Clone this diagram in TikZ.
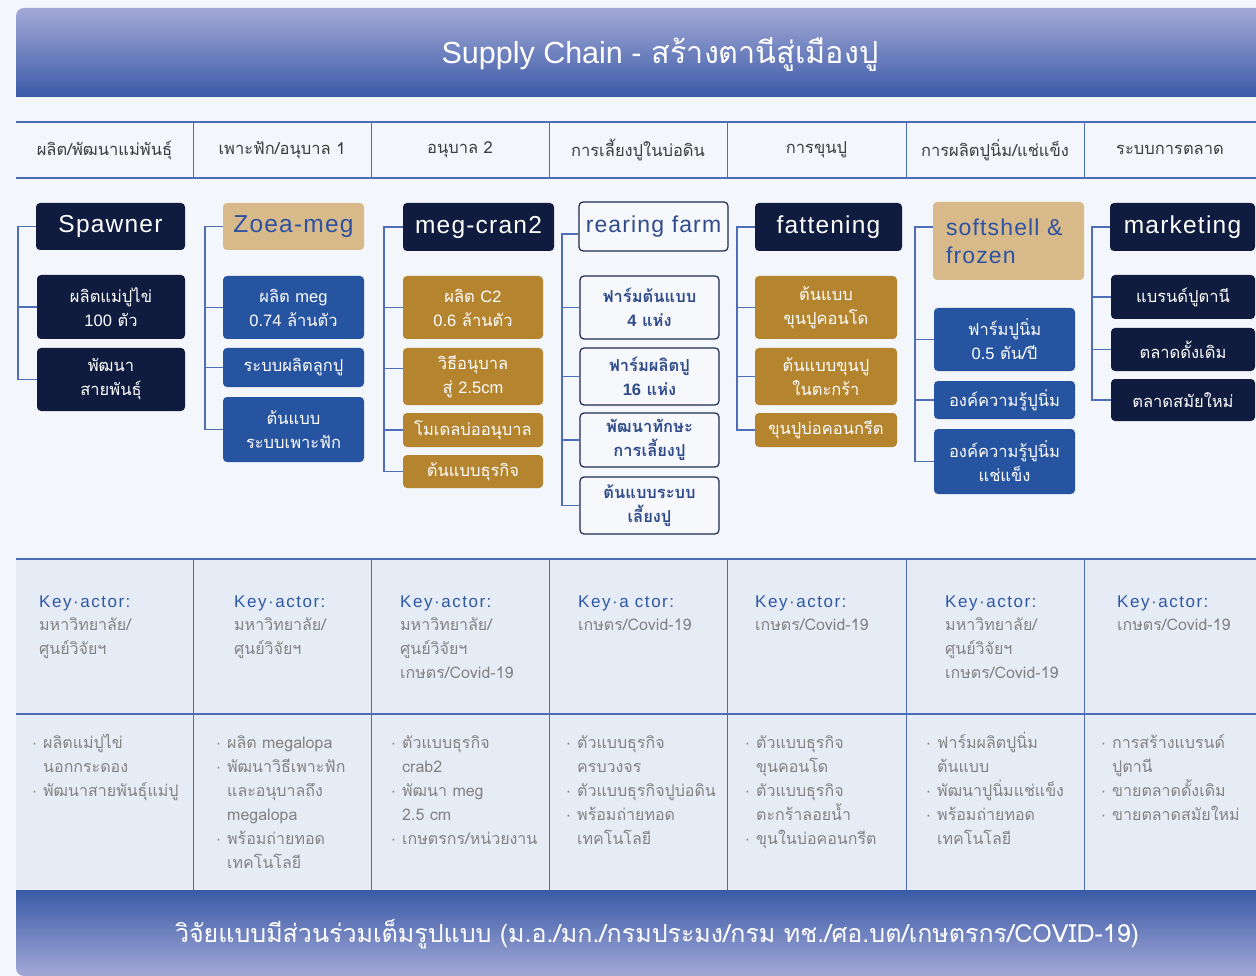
\documentclass[tikz,border=0pt]{standalone}
\usepackage{fontspec}
\setmainfont[Script=Thai]{Loma}
\newfontfamily\latf{Liberation Sans}
\newfontfamily\boxtf[LetterSpace=5]{Liberation Sans}
\newfontfamily\kaf[LetterSpace=9]{Liberation Sans}
\usetikzlibrary{calc}
\definecolor{bg}{HTML}{F3F6FA}
\definecolor{navy}{HTML}{0F1C3F}
\definecolor{tan}{HTML}{D8B98A}
\definecolor{tantext}{HTML}{2D52A2}
\definecolor{bluebox}{HTML}{2754A1}
\definecolor{gold}{HTML}{B5842F}
\definecolor{conncol}{HTML}{4E6FB7}
\definecolor{hdrline}{HTML}{4A6DB3}
\definecolor{tablebg}{HTML}{E6ECF5}
\definecolor{kablue}{HTML}{2E58A6}
\definecolor{graytxt}{HTML}{828282}
\definecolor{hdrtxt}{HTML}{3C3C3C}
\definecolor{rfborder}{HTML}{1C2A4F}
\definecolor{rftext}{HTML}{2F4B8C}
\definecolor{rffill}{HTML}{F6F8FB}
\definecolor{bannerlight}{HTML}{A3A9D6}
\definecolor{bannerdark}{HTML}{3A5AA7}
\newcommand\bx[7]{\node[#1, minimum width={(#5)-(#3)}, minimum height={(#6)-(#4)}] (#2) at ({((#3)+(#5))/2},{((#4)+(#6))/2}) {#7};}
\newcommand\bul{\llap{{\latf ·}\hspace{6pt}}}
\newcommand\kcol[4]{%
  \node[katitle, anchor=base west] (ka#1) at (#2,607) {#3};
  \foreach \t [count=\i] in {#4} {\node[ktext, anchor=base west] (kt#1-\i) at (#2,{607+23.7*\i}) {\t};}%
}
\newcommand\bcol[3]{%
  \foreach \t [count=\i] in {#3} {\node[ktext, anchor=base west] (bt#1-\i) at (#2,{724+24*\i}) {\t};}%
}
\begin{document}
\begin{tikzpicture}[x=1pt,y=-1pt,
  box/.style={rounded corners=4pt, inner sep=0pt, align=center, text=white, font=\fontsize{16.5}{24}\selectfont},
  navybox/.style={box, fill=navy},
  bluebx/.style={box, fill=bluebox},
  goldbox/.style={box, fill=gold},
  tanbox/.style={box, fill=tan, text=tantext},
  rfbox/.style={box, fill=rffill, draw=rfborder, line width=1.2pt, text=rftext, font=\bfseries\fontsize{16.5}{24}\selectfont},
  ttl/.style={font=\boxtf\fontsize{24.5}{28}\selectfont},
  conn/.style={draw=conncol, line width=1.5pt},
  hline/.style={draw=hdrline, line width=1.6pt},
  vline/.style={draw=hdrline, line width=1pt},
  hdr/.style={text=hdrtxt, font=\fontsize{16.5}{20}\selectfont, inner sep=0pt},
  katitle/.style={text=kablue, font=\kaf\fontsize{17}{20}\selectfont, inner sep=0pt},
  ktext/.style={text=graytxt, font=\fontsize{16}{20}\selectfont, inner sep=0pt},
  banner/.style={text=white, inner sep=0pt}
]
\useasboundingbox (0,0) rectangle (1256,976);
\fill[bg] (0,0) rectangle (1256,976);

% title banner
\shade[top color=bannerlight, bottom color=bannerdark] (16,97) -- (16,16) arc[start angle=180, end angle=270, radius=8] -- (1262,8) -- (1262,97) -- cycle;
\node[banner, font=\fontsize{30.5}{34}\selectfont] (title) at (660,55) {{\latf Supply Chain -} สร้างตานีสู่เมืองปู};

% header row
\draw[hline] (16,122) -- (1256,122);
\draw[hline] (16,178) -- (1256,178);
\foreach \x in {193,371,549,727,906,1084} {\draw[vline] (\x,122) -- (\x,178);}
\node[hdr] (h1) at (104.5,150) {ผลิต/พัฒนาแม่พันธุ์};
\node[hdr] (h2) at (282,150) {เพาะฟัก/อนุบาล 1};
\node[hdr] (h3) at (460,150) {อนุบาล 2};
\node[hdr] (h4) at (638,150) {การเลี้ยงปูในบ่อดิน};
\node[hdr] (h5) at (816.5,150) {การขุนปู};
\node[hdr] (h6) at (995,150) {การผลิตปูนิ่ม/แช่แข็ง};
\node[hdr] (h7) at (1170,150) {ระบบการตลาด};

% column 1
\bx{navybox, ttl}{spawner}{36}{203}{185}{250}{Spawner}
\bx{navybox}{s1a}{37}{275}{185}{339}{ผลิตแม่ปูไข่\\{\latf 100} ตัว}
\bx{navybox}{s1b}{37}{348}{185}{411}{พัฒนา\\สายพันธุ์}
\coordinate (c1) at (18,0);
\draw[conn] (spawner.west) -| (c1 |- s1b.west) -- (s1b.west);
\draw[conn] (c1 |- s1a.west) -- (s1a.west);

% column 2
\bx{tanbox, ttl}{zoea}{223}{203}{364}{250}{Zoea-meg}
\bx{bluebx}{s2a}{223}{276}{364}{339}{ผลิต {\latf meg}\\{\latf 0.74} ล้านตัว}
\bx{bluebx}{s2b}{223}{348}{364}{387}{ระบบผลิตลูกปู}
\bx{bluebx}{s2c}{223}{397}{364}{462}{ต้นแบบ\\ระบบเพาะฟัก}
\coordinate (c2) at (205,0);
\draw[conn] (zoea.west) -| (c2 |- s2c.west) -- (s2c.west);
\draw[conn] (c2 |- s2a.west) -- (s2a.west);
\draw[conn] (c2 |- s2b.west) -- (s2b.west);

% column 3
\bx{navybox, ttl}{megcran}{403}{203}{554}{251}{meg-cran2}
\bx{goldbox}{s3a}{403}{276}{543}{339}{ผลิต {\latf C2}\\{\latf 0.6} ล้านตัว}
\bx{goldbox}{s3b}{403}{348}{543}{405}{วิธีอนุบาล\\สู่ {\latf 2.5cm}}
\bx{goldbox}{s3c}{403}{413}{543}{447}{โมเดลบ่ออนุบาล}
\bx{goldbox}{s3d}{403}{455}{543}{488}{ต้นแบบธุรกิจ}
\coordinate (c3) at (384,0);
\draw[conn] (megcran.west) -| (c3 |- s3d.west) -- (s3d.west);
\draw[conn] (c3 |- s3a.west) -- (s3a.west);
\draw[conn] ([yshift=8pt]c3 |- s3b.west) -- ([yshift=8pt]s3b.west);
\draw[conn] (c3 |- s3c.west) -- (s3c.west);

% column 4
\bx{rfbox, ttl, font=\boxtf\fontsize{23}{28}\selectfont}{rf}{579}{202}{728}{251}{rearing farm}
\bx{rfbox}{s4a}{580}{276}{719}{339}{ฟาร์มต้นแบบ\\{\latf 4} แห่ง}
\bx{rfbox}{s4b}{580}{348}{719}{405}{ฟาร์มผลิตปู\\{\latf 16} แห่ง}
\bx{rfbox}{s4c}{580}{413}{719}{467}{พัฒนาทักษะ\\การเลี้ยงปู}
\bx{rfbox}{s4d}{580}{477}{719}{534}{ต้นแบบระบบ\\เลี้ยงปู}
\coordinate (c4) at (562,0);
\draw[conn] ([yshift=-7.5pt]rf.west) -| (c4 |- s4d.west) -- (s4d.west);
\draw[conn] (c4 |- s4a.west) -- (s4a.west);
\draw[conn] (c4 |- s4b.west) -- (s4b.west);
\draw[conn] (c4 |- s4c.west) -- (s4c.west);

% column 5
\bx{navybox, ttl}{fat}{755}{203}{902}{251}{fattening}
\bx{goldbox}{s5a}{755}{276}{897}{339}{ต้นแบบ\\ขุนปูคอนโด}
\bx{goldbox}{s5b}{755}{348}{897}{405}{ต้นแบบขุนปู\\ในตะกร้า}
\bx{goldbox}{s5c}{755}{413}{897}{447}{ขุนปูบ่อคอนกรีต}
\coordinate (c5) at (737,0);
\draw[conn] (fat.west) -| (c5 |- s5c.west) -- (s5c.west);
\draw[conn] (c5 |- s5a.west) -- (s5a.west);
\draw[conn] (c5 |- s5b.west) -- (s5b.west);

% column 6
\bx{tanbox, font=\boxtf\fontsize{23}{28}\selectfont, align=left, text width=125pt}{ss}{933}{202}{1084}{280}{softshell \&\\frozen}
\bx{bluebx}{s6a}{934}{308}{1075}{371}{ฟาร์มปูนิ่ม\\{\latf 0.5} ตัน/ปี}
\bx{bluebx}{s6b}{934}{381}{1075}{419}{องค์ความรู้ปูนิ่ม}
\bx{bluebx}{s6c}{934}{429}{1075}{494}{องค์ความรู้ปูนิ่ม\\แช่แข็ง}
\coordinate (c6) at (915,0);
\draw[conn] ([yshift=14pt]ss.west) -| (c6 |- s6c.west) -- (s6c.west);
\draw[conn] (c6 |- s6a.west) -- (s6a.west);
\draw[conn] (c6 |- s6b.west) -- (s6b.west);

% column 7
\bx{navybox, ttl}{mk}{1110}{203}{1255}{251}{marketing}
\bx{navybox}{s7a}{1111}{275}{1255}{319}{แบรนด์ปูตานี}
\bx{navybox}{s7b}{1111}{328}{1255}{371}{ตลาดดั้งเดิม}
\bx{navybox}{s7c}{1111}{379}{1255}{421}{ตลาดสมัยใหม่}
\coordinate (c7) at (1092,0);
\draw[conn] (mk.west) -| (c7 |- s7c.west) -- (s7c.west);
\draw[conn] (c7 |- s7a.west) -- (s7a.west);
\draw[conn] (c7 |- s7b.west) -- (s7b.west);

% bottom table
\fill[tablebg] (16,559) rectangle (1256,890);
\draw[hline] (16,559) -- (1256,559);
\draw[hline] (16,714) -- (1256,714);
\foreach \x in {193,371,549,727,906,1084} {\draw[vline] (\x,559) -- (\x,890);}

\kcol{1}{39}{Key·actor:}{มหาวิทยาลัย/,ศูนย์วิจัยฯ}
\kcol{2}{234}{Key·actor:}{มหาวิทยาลัย/,ศูนย์วิจัยฯ}
\kcol{3}{400}{Key·actor:}{มหาวิทยาลัย/,ศูนย์วิจัยฯ,เกษตร/Covid-19}
\kcol{4}{578}{Key·a ctor:}{เกษตร/Covid-19}
\kcol{5}{755}{Key·actor:}{เกษตร/Covid-19}
\kcol{6}{945}{Key·actor:}{มหาวิทยาลัย/,ศูนย์วิจัยฯ,เกษตร/Covid-19}
\kcol{7}{1117}{Key·actor:}{เกษตร/Covid-19}

\bcol{1}{43}{\bul ผลิตแม่ปูไข่,นอกกระดอง,\bul พัฒนาสายพันธุ์แม่ปู}
\bcol{2}{227}{\bul ผลิต megalopa,\bul พัฒนาวิธีเพาะฟัก,และอนุบาลถึง,megalopa,\bul พร้อมถ่ายทอด,เทคโนโลยี}
\bcol{3}{402}{\bul ตัวแบบธุรกิจ,crab2,\bul พัฒนา meg,2.5 cm,\bul เกษตรกร/หน่วยงาน}
\bcol{4}{577}{\bul ตัวแบบธุรกิจ,ครบวงจร,\bul ตัวแบบธุรกิจปูบ่อดิน,\bul พร้อมถ่ายทอด,เทคโนโลยี}
\bcol{5}{756}{\bul ตัวแบบธุรกิจ,ขุนคอนโด,\bul ตัวแบบธุรกิจ,ตะกร้าลอยน้ำ,\bul ขุนในบ่อคอนกรีต}
\bcol{6}{937}{\bul ฟาร์มผลิตปูนิ่ม,ต้นแบบ,\bul พัฒนาปูนิ่มแช่แข็ง,\bul พร้อมถ่ายทอด,เทคโนโลยี}
\bcol{7}{1112}{\bul การสร้างแบรนด์,ปูตานี,\bul ขายตลาดดั้งเดิม,\bul ขายตลาดสมัยใหม่}

% bottom banner
\shade[top color=bannerdark, bottom color=bannerlight] (16,890) -- (16,968) arc[start angle=180, end angle=90, radius=8] -- (1262,976) -- (1262,890) -- cycle;
\node[banner, font=\fontsize{25}{28}\selectfont] (foot) at (657,934) {วิจัยแบบมีส่วนร่วมเต็มรูปแบบ (ม.อ./มก./กรมประมง/กรม ทช./ศอ.บต/เกษตรกร/COVID-19)};
\end{tikzpicture}
\end{document}
